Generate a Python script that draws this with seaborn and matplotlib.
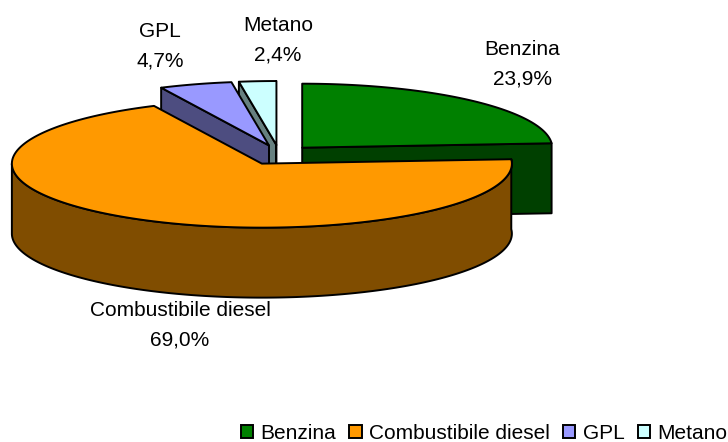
import numpy as np
import matplotlib
matplotlib.use("Agg")
import matplotlib.pyplot as plt
from matplotlib.colors import to_rgb
from matplotlib.patches import Patch, Polygon
import seaborn as sns

fuels = ["Benzina", "Combustibile diesel", "GPL", "Metano"]
shares = [23.9, 69.0, 4.7, 2.4]
colors = ["#008000", "#FF9900", "#9999FF", "#CCFFFF"]

label_x = [522, 180, 160, 278]
label_y = [64, 325, 46, 40]

sns.set_theme(style="white")
plt.rcParams["font.family"] = ["Liberation Sans", "DejaVu Sans"]

# pie geometry, in pixels of the picture
cx, cy = 279, 155
rx, ry = 250, 64
depth = 70
ex, ey = 34, 10
lw = 1.4
font = 15

fig, ax = plt.subplots(figsize=(7.28, 4.42), dpi=100)
ax.set_position([0, 0, 1, 1])
ax.set_xlim(0, 728)
ax.set_ylim(442, 0)
ax.axis("off")


def rim(c, t0, t1):
    t = np.radians(np.linspace(t0, t1, max(int(abs(t1 - t0)) * 2, 2)))
    return np.column_stack([c[0] + rx * np.sin(t), c[1] - ry * np.cos(t)])


def shade(pts, color, z):
    ax.add_patch(Polygon(pts, closed=True, fc=color, ec="black", lw=lw, joinstyle="round", zorder=z))


edges = np.cumsum([0] + shares) / sum(shares) * 360

# back slices first, diesel sits in front of everything
for z, i in enumerate([3, 2, 0, 1]):
    t0, t1 = edges[i], edges[i + 1]
    mid = np.radians((t0 + t1) / 2)
    c = (cx + ex * np.sin(mid), cy - ey * np.cos(mid))
    side = tuple(0.5 * v for v in to_rgb(colors[i]))
    down = np.array([0, depth])
    base = 10 * z

    # cut faces turned towards the viewer
    for t, normal in [(t0, t0 - 90), (t1, t1 + 90)]:
        if np.cos(np.radians(normal)) < 0:
            p = np.vstack([c, rim(c, t, t)[0]])
            shade(np.vstack([p, p[::-1] + down]), side, base + 1)

    # outer wall, front half only
    a, b = t0, min(t1, 270)
    if b > a and a > 0:
        r = rim(c, a, b)
        shade(np.vstack([r, r[::-1] + down]), side, base + 2)

    shade(np.vstack([c, rim(c, t0, t1)]), colors[i], base + 3)

    txt = f"{fuels[i]}\n{shares[i]:.1f}%".replace(".", ",")
    ax.text(label_x[i], label_y[i], txt, ha="center", va="center", fontsize=font,
            linespacing=1.72, color="black", zorder=100)

handles = [Patch(fc=c, ec="black", lw=lw, label=f) for f, c in zip(fuels, colors)]
ax.legend(handles=handles, loc="center right", bbox_to_anchor=(0.999, 0.019), ncol=4, frameon=False,
          fontsize=font, labelcolor="black", handlelength=0.58, handleheight=0.58, handletextpad=0.35,
          columnspacing=0.65, borderpad=0, borderaxespad=0, labelspacing=0)

fig.savefig("out.png", dpi=100)
